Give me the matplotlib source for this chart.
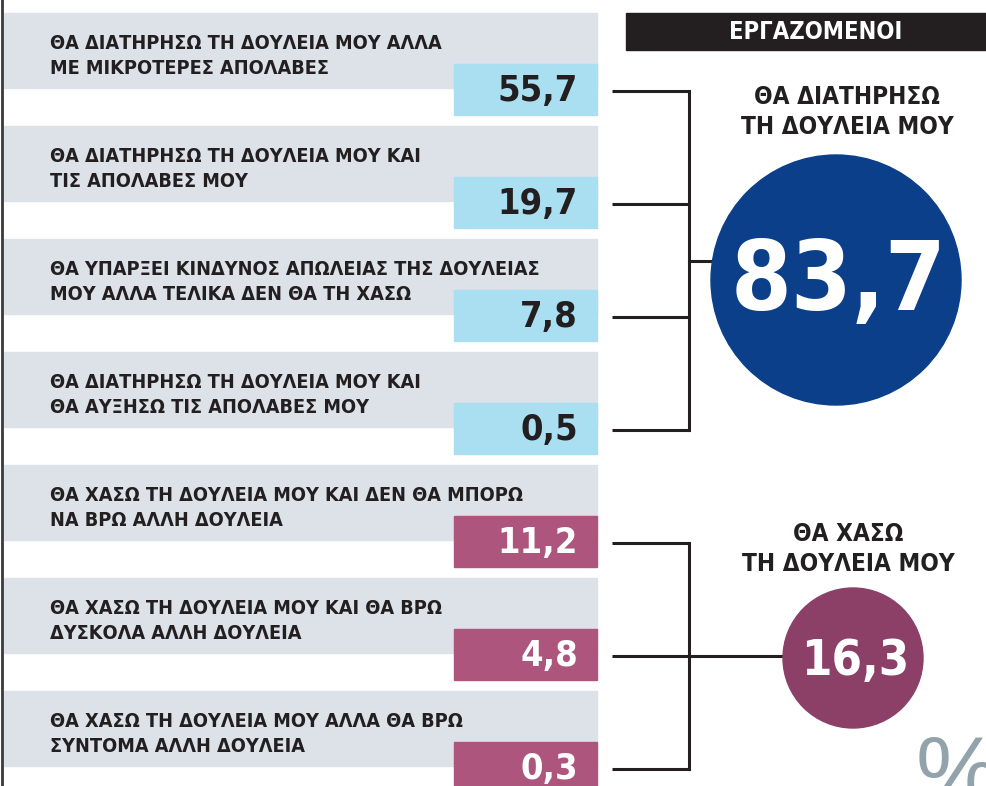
import matplotlib.pyplot as plt
from matplotlib.patches import Rectangle, Circle

# data
labels = [
    'ΘΑ ΔΙΑΤΗΡΗΣΩ ΤΗ ΔΟΥΛΕΙΑ ΜΟΥ ΑΛΛΑ\nΜΕ ΜΙΚΡΟΤΕΡΕΣ ΑΠΟΛΑΒΕΣ',
    'ΘΑ ΔΙΑΤΗΡΗΣΩ ΤΗ ΔΟΥΛΕΙΑ ΜΟΥ ΚΑΙ\nΤΙΣ ΑΠΟΛΑΒΕΣ ΜΟΥ',
    'ΘΑ ΥΠΑΡΞΕΙ ΚΙΝΔΥΝΟΣ ΑΠΩΛΕΙΑΣ ΤΗΣ ΔΟΥΛΕΙΑΣ\nΜΟΥ ΑΛΛΑ ΤΕΛΙΚΑ ΔΕΝ ΘΑ ΤΗ ΧΑΣΩ',
    'ΘΑ ΔΙΑΤΗΡΗΣΩ ΤΗ ΔΟΥΛΕΙΑ ΜΟΥ ΚΑΙ\nΘΑ ΑΥΞΗΣΩ ΤΙΣ ΑΠΟΛΑΒΕΣ ΜΟΥ',
    'ΘΑ ΧΑΣΩ ΤΗ ΔΟΥΛΕΙΑ ΜΟΥ ΚΑΙ ΔΕΝ ΘΑ ΜΠΟΡΩ\nΝΑ ΒΡΩ ΑΛΛΗ ΔΟΥΛΕΙΑ',
    'ΘΑ ΧΑΣΩ ΤΗ ΔΟΥΛΕΙΑ ΜΟΥ ΚΑΙ ΘΑ ΒΡΩ\nΔΥΣΚΟΛΑ ΑΛΛΗ ΔΟΥΛΕΙΑ',
    'ΘΑ ΧΑΣΩ ΤΗ ΔΟΥΛΕΙΑ ΜΟΥ ΑΛΛΑ ΘΑ ΒΡΩ\nΣΥΝΤΟΜΑ ΑΛΛΗ ΔΟΥΛΕΙΑ',
]
values = [55.7, 19.7, 7.8, 0.5, 11.2, 4.8, 0.3]
groups = [0, 0, 0, 0, 1, 1, 1]
group_titles = ['ΘΑ ΔΙΑΤΗΡΗΣΩ\nΤΗ ΔΟΥΛΕΙΑ ΜΟΥ', 'ΘΑ ΧΑΣΩ\nΤΗ ΔΟΥΛΕΙΑ ΜΟΥ']
group_totals = [83.7, 16.3]
header = 'ΕΡΓΑΖΟΜΕΝΟΙ'

# styling
box_colors = ['#a9dff0', '#ae557d']
num_colors = ['#231f20', 'white']
circle_colors = ['#0b3f8a', '#8c4068']
band_color = '#dce2e8'
ink = '#231f20'
fam = ['DejaVu Sans']
cond = dict(family=fam, fontweight='bold', fontstretch='condensed')

def fmt(v):
    return f'{v:.1f}'.replace('.', ',')

fig = plt.figure(figsize=(9.86, 7.86), dpi=100)
ax = fig.add_axes([0, 0, 1, 1])
ax.set_xlim(0, 986)
ax.set_ylim(786, 0)
ax.axis('off')

# left rule
ax.plot([2, 2], [0, 786], color='#3a3a3a', lw=2)

top, step = 13, 113
centers = []
for i, (lab, v, g) in enumerate(zip(labels, values, groups)):
    y0 = top + i * step
    ax.add_patch(Rectangle((4, y0), 593, 75, color=band_color, zorder=1))
    ax.text(50, y0 + 43, lab, ha='left', va='center', fontsize=14.2, color=ink,
            linespacing=1.42, zorder=3, **cond)
    ax.add_patch(Rectangle((454, y0 + 51), 143, 51, color=box_colors[g], zorder=2))
    ax.text(578, y0 + 78, fmt(v), ha='right', va='center', fontsize=26,
            color=num_colors[g], zorder=3, **cond)
    centers.append(y0 + 78)

# connectors and circles
xs, xv = 612, 689
circ = [(836, 280, 125, 70), (853, 658, 70, 35)]
title_x = [847, 848]
title_y = [112, 549]
for g in range(len(group_totals)):
    ys = [c for c, gg in zip(centers, groups) if gg == g]
    for y in ys:
        ax.plot([xs, xv], [y, y], color=ink, lw=2.2, solid_capstyle='butt', zorder=2)
    ax.plot([xv, xv], [ys[0], ys[-1]], color=ink, lw=2.2, zorder=2)
    ym = (ys[0] + ys[-1]) / 2
    cx, cy, r, fs = circ[g]
    ax.plot([xv, cx], [ym, ym], color=ink, lw=2.2, zorder=2)
    ax.add_patch(Circle((cx, cy), r, color=circle_colors[g], zorder=4))
    ax.text(cx + 2, cy + 3, fmt(group_totals[g]), ha='center', va='center', fontsize=fs,
            color='white', zorder=5, **cond)
    ax.text(title_x[g], title_y[g], group_titles[g], ha='center', va='center',
            fontsize=17.5, color=ink, linespacing=1.3, **cond)

# header
ax.add_patch(Rectangle((626, 13), 360, 37, color='#231f20', zorder=1))
ax.text(816, 32, header, ha='center', va='center', fontsize=17, color='white',
        zorder=3, **cond)

# percent sign
ax.text(916, 802, '%', ha='left', va='baseline', fontsize=68, fontweight='light',
        family=['Liberation Sans', 'DejaVu Sans'], color='#93a3ab', zorder=3)

fig.savefig('out.png', dpi=100)
